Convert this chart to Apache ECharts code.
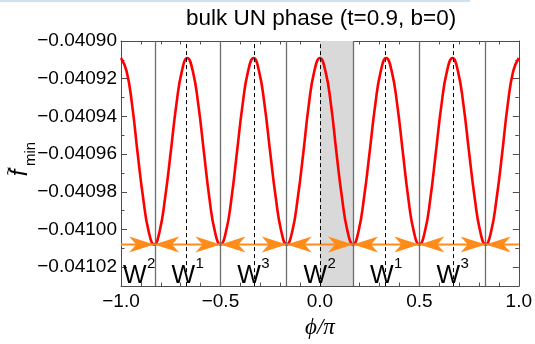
<!DOCTYPE html>
<html>
<head>
<meta charset="utf-8">
<script src="https://cdn.jsdelivr.net/npm/echarts@6/dist/echarts.min.js"></script>
<style>
  html, body { margin: 0; padding: 0; background: #ffffff; }
  #chart { width: 535px; height: 344px; }
</style>
</head>
<body>
<div id="chart"></div>
<script>
// phi/pi sample positions
const phi = [
  -1.000, -0.972, -0.944, -0.917, -0.889, -0.861, -0.833, -0.806, -0.778, -0.750, -0.722, -0.694,
  -0.667, -0.639, -0.611, -0.583, -0.556, -0.528, -0.500, -0.472, -0.444, -0.417, -0.389, -0.361,
  -0.333, -0.306, -0.278, -0.250, -0.222, -0.194, -0.167, -0.139, -0.111, -0.083, -0.056, -0.028,
   0.000,  0.028,  0.056,  0.083,  0.111,  0.139,  0.167,  0.194,  0.222,  0.250,  0.278,  0.306,
   0.333,  0.361,  0.389,  0.417,  0.444,  0.472,  0.500,  0.528,  0.556,  0.583,  0.611,  0.639,
   0.667,  0.694,  0.722,  0.750,  0.778,  0.806,  0.833,  0.861,  0.889,  0.917,  0.944,  0.972,
   1.000
];
// minimised free energy f~_min at each phi
const fMin = [
  -0.040909, -0.040916, -0.040934, -0.040959, -0.040983, -0.041001, -0.041008, -0.041001, -0.040983, -0.040959, -0.040934, -0.040916,
  -0.040909, -0.040916, -0.040934, -0.040959, -0.040983, -0.041001, -0.041008, -0.041001, -0.040983, -0.040959, -0.040934, -0.040916,
  -0.040909, -0.040916, -0.040934, -0.040959, -0.040983, -0.041001, -0.041008, -0.041001, -0.040983, -0.040959, -0.040934, -0.040916,
  -0.040909, -0.040916, -0.040934, -0.040959, -0.040983, -0.041001, -0.041008, -0.041001, -0.040983, -0.040959, -0.040934, -0.040916,
  -0.040909, -0.040916, -0.040934, -0.040959, -0.040983, -0.041001, -0.041008, -0.041001, -0.040983, -0.040959, -0.040934, -0.040916,
  -0.040909, -0.040916, -0.040934, -0.040959, -0.040983, -0.041001, -0.041008, -0.041001, -0.040983, -0.040959, -0.040934, -0.040916,
  -0.040909
];

// well bottoms (solid lines), barrier tops (dashed lines), highlighted cell
const wellMinima = [-5 / 6, -1 / 2, -1 / 6, 1 / 6, 1 / 2, 5 / 6];
const barrierTops = [-2 / 3, -1 / 3, 0, 1 / 3, 2 / 3];
const shadedCell = [0, 1 / 6];
const groundLevel = -0.041008;

// axis ranges and ticks
const xRange = [-1, 1];
const yRange = [-0.04103, -0.04090];
const yMajorTicks = [-0.04102, -0.04100, -0.04098, -0.04096, -0.04094, -0.04092, -0.04090];

// winding-sector labels
const sectorLabelX = [-0.99, -0.746, -0.416, -0.082, 0.252, 0.586];
const sectorLabelSup = ['2', '1', '3', '2', '1', '3'];

const FONT = '"Liberation Sans", Arial, sans-serif';
const FRAME = '#4d4d4d';
const ORANGE = '#ff8c1a';

const minus = (s) => s.replace('-', '\u2212');

function xAxisDef(position, interval, major) {
  return {
    type: 'value', position, min: xRange[0], max: xRange[1], interval,
    axisLine: { show: major, onZero: false, lineStyle: { color: FRAME, width: 1 } },
    axisTick: { show: true, inside: true, length: major ? 6 : 3.5, lineStyle: { color: FRAME, width: 1 } },
    axisLabel: {
      show: major && position === 'bottom', margin: 6, fontSize: 19, fontFamily: FONT, color: '#000',
      formatter: (v) => minus(v.toFixed(1))
    },
    splitLine: { show: false },
    name: major && position === 'bottom' ? '\u03d5/\u03c0' : '',
    nameLocation: 'middle', nameGap: 29,
    nameTextStyle: { fontSize: 23, fontStyle: 'italic', fontFamily: '"Liberation Serif", serif', color: '#000' }
  };
}

function yAxisDef(position, major) {
  const def = {
    type: 'value', position, min: yRange[0], max: yRange[1],
    axisLine: { show: major, onZero: false, lineStyle: { color: FRAME, width: 1 } },
    axisTick: { show: true, inside: true, length: major ? 6 : 3.5, lineStyle: { color: FRAME, width: 1 } },
    axisLabel: {
      show: major && position === 'left', margin: 4, fontSize: 19, fontFamily: FONT, color: '#000',
      formatter: (v) => minus(v.toFixed(5))
    },
    splitLine: { show: false }
  };
  if (major) {
    def.axisTick.customValues = yMajorTicks;
    def.axisLabel.customValues = yMajorTicks;
  } else {
    def.interval = 0.00001;
  }
  return def;
}

const curveData = phi.map((x, i) => [x, fMin[i]]);
const arrowData = [];
wellMinima.forEach((m) => { arrowData.push([m, groundLevel, 1]); arrowData.push([m, groundLevel, -1]); });
const labelData = sectorLabelX.map((x) => [x, yRange[0]]);

const chart = echarts.init(document.getElementById('chart'), null, { renderer: 'canvas' });
chart.setOption({
  animation: false,
  backgroundColor: '#ffffff',
  title: {
    text: 'bulk UN phase (t=0.9, b=0)', left: 186, top: 7, padding: 0,
    textStyle: { fontSize: 22.5, fontWeight: 'normal', fontFamily: FONT, color: '#000' }
  },
  graphic: [
    { type: 'rect', shape: { x: 0, y: 0, width: 470, height: 2 }, style: { fill: '#cfe0f1' } },
    {
      // y-axis title f~_min, reading bottom to top
      type: 'group', x: 22, y: 164, rotation: Math.PI / 2,
      children: [
        { type: 'text', x: -9, y: -2, style: { text: 'f', fontSize: 24, fontStyle: 'italic', fontFamily: FONT, fill: '#000', align: 'center', verticalAlign: 'middle' } },
        { type: 'text', x: -7, y: -13, style: { text: '~', fontSize: 15, fontFamily: FONT, fill: '#000', align: 'center', verticalAlign: 'middle' } },
        { type: 'text', x: 10, y: 9, style: { text: 'min', fontSize: 15, fontFamily: FONT, fill: '#000', align: 'center', verticalAlign: 'middle' } }
      ]
    }
  ],
  grid: { left: 121, right: 13, top: 41, bottom: 56, containLabel: false },
  xAxis: [
    xAxisDef('bottom', 0.5, true),
    xAxisDef('bottom', 0.1, false),
    xAxisDef('top', 0.5, true),
    xAxisDef('top', 0.1, false)
  ],
  yAxis: [
    yAxisDef('left', true),
    yAxisDef('left', false),
    yAxisDef('right', true),
    yAxisDef('right', false)
  ],
  series: [
    {
      name: 'cells', type: 'line', data: [], z: 1, silent: true,
      markArea: {
        silent: true,
        itemStyle: { color: '#d9d9d9' },
        data: [[{ xAxis: shadedCell[0] }, { xAxis: shadedCell[1] }]]
      },
      markLine: {
        silent: true, symbol: 'none', label: { show: false },
        data: wellMinima.map((x) => ({ xAxis: x, lineStyle: { color: '#6e6e6e', width: 1.3, type: 'solid' } }))
          .concat(barrierTops.map((x) => ({ xAxis: x, lineStyle: { color: '#000', width: 1, type: [4, 3] } })))
      }
    },
    {
      name: 'f_min', type: 'line', data: curveData, z: 3,
      smooth: 0.5, showSymbol: false, symbol: 'none',
      lineStyle: { color: '#ff0000', width: 2.6 }
    },
    {
      name: 'ground', type: 'line', data: [[xRange[0], groundLevel], [xRange[1], groundLevel]], z: 4,
      showSymbol: false, symbol: 'none', lineStyle: { color: ORANGE, width: 2 }
    },
    {
      name: 'flow', type: 'custom', data: arrowData, z: 5, silent: true,
      renderItem: (params, api) => {
        const p = api.coord([api.value(0), api.value(1)]);
        const d = api.value(2);
        const L = 25, H = 16, N = 7;
        return {
          type: 'polygon',
          shape: { points: [[p[0], p[1]], [p[0] - d * L, p[1] - H / 2], [p[0] - d * (L - N), p[1]], [p[0] - d * L, p[1] + H / 2]] },
          style: { fill: ORANGE }
        };
      }
    },
    {
      name: 'sectors', type: 'custom', data: labelData, z: 6, silent: true,
      renderItem: (params, api) => {
        const p = api.coord([api.value(0), api.value(1)]);
        return {
          type: 'group',
          children: [
            { type: 'text', x: p[0], y: p[1] - 10, style: { text: 'W', fontSize: 25, fontFamily: FONT, fill: '#000', align: 'left', verticalAlign: 'middle' } },
            { type: 'text', x: p[0] + 24, y: p[1] - 22, style: { text: sectorLabelSup[params.dataIndex], fontSize: 15, fontFamily: FONT, fill: '#000', align: 'left', verticalAlign: 'middle' } }
          ]
        };
      }
    }
  ]
});
</script>
</body>
</html>
